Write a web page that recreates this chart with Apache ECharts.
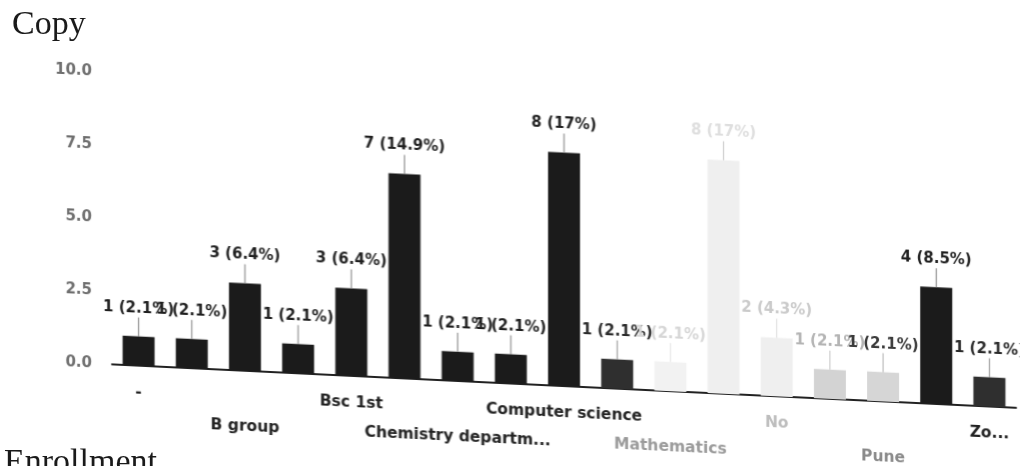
<!DOCTYPE html>
<html>
<head>
<meta charset="utf-8">
<script src="https://cdn.jsdelivr.net/npm/echarts@6/dist/echarts.min.js"></script>
<style>
html, body { margin: 0; padding: 0; background: #fff; }
#page { position: relative; width: 1020px; height: 466px; overflow: hidden; background: #fff; }
/* the scan is sheared: verticals stay vertical, the baseline drops to the right */
#chart { position: absolute; left: 0; top: 0; width: 1020px; height: 466px; transform-origin: 0 0; transform: skewY(2.75deg); }
#notes { position: absolute; left: 0; top: 0; width: 1020px; height: 466px; pointer-events: none; }
</style>
</head>
<body>
<div id="page">
  <div id="chart"></div>
  <div id="notes"></div>
</div>
<script>
// answers in form order, only every other name is printed under the axis
var categories = ['-', '', 'B group', '', 'Bsc 1st', '', 'Chemistry departm...', '', 'Computer science', '',
  'Mathematics', '', 'No', '', 'Pune', '', 'Zo...'];
var counts = [1, 1, 3, 1, 3, 7, 1, 1, 8, 1, 1, 8, 2, 1, 1, 4, 1];
var percents = [2.1, 2.1, 6.4, 2.1, 6.4, 14.9, 2.1, 2.1, 17, 2.1, 2.1, 17, 4.3, 2.1, 2.1, 8.5, 2.1];
var yTicks = [0, 2.5, 5, 7.5, 10];

// photocopy toner: some bars came out almost blank
var tones = {
  ink:   { bar: '#1b1b1b', text: '#1f1f1f', stem: '#7a7a7a' },
  grey:  { bar: '#2f2f2f', text: '#2a2a2a', stem: '#8a8a8a' },
  ghost: { bar: '#f2f2f2', text: '#d6d6d6', stem: '#e2e2e2' },
  mist:  { bar: '#efefef', text: '#dedede', stem: '#c4c4c4' },
  pale:  { bar: '#efefef', text: '#cacaca', stem: '#dadada' },
  ash:   { bar: '#d3d3d3', text: '#b4b4b4', stem: '#c4c4c4' },
  ash2:  { bar: '#d6d6d6', text: '#3a3a3a', stem: '#b0b0b0' }
};
var barTone = ['ink', 'ink', 'ink', 'ink', 'ink', 'ink', 'ink', 'ink', 'ink', 'grey',
  'ghost', 'mist', 'pale', 'ash', 'ash2', 'ink', 'grey'];
var axisTone = { 10: 'c1', 12: 'c2', 14: 'c3' };

var font = 'DejaVu Sans';

var labelRich = {};
var axisRich = {};
Object.keys(tones).forEach(function (k) {
  labelRich['t_' + k] = { color: tones[k].text, fontFamily: font, fontWeight: 'bold', fontSize: 15, lineHeight: 18 };
  labelRich['s_' + k] = { width: 1, height: 19, backgroundColor: tones[k].stem };
});
['#222222', '#9a9a9a', '#bdbdbd', '#8a8a8a'].forEach(function (c, i) {
  axisRich['c' + i] = { color: c, fontFamily: font, fontWeight: 'bold', fontSize: 15.5, lineHeight: 29 };
});

var chart = echarts.init(document.getElementById('chart'));
chart.setOption({
  backgroundColor: 'transparent',
  animation: false,
  grid: { left: 112, right: 4, top: 67, bottom: 107, containLabel: false },
  xAxis: {
    type: 'category',
    data: categories,
    axisLine: { show: true, lineStyle: { color: '#222', width: 2 } },
    axisTick: { show: false },
    axisLabel: {
      interval: 1,
      margin: 12,
      lineHeight: 29,
      fontSize: 15,
      fontFamily: font,
      formatter: function (value, index) {
        var key = axisTone[index] || 'c0';
        return (index % 4 === 0 ? '' : '\n') + '{' + key + '|' + value + '}';
      },
      rich: axisRich
    }
  },
  yAxis: {
    type: 'value',
    min: yTicks[0],
    max: yTicks[yTicks.length - 1],
    interval: yTicks[1] - yTicks[0],
    axisLine: { show: false },
    axisTick: { show: false },
    splitLine: { show: false },
    axisLabel: {
      margin: 20,
      color: '#6e6e6e',
      fontFamily: font,
      fontWeight: 'bold',
      fontSize: 15,
      formatter: function (v) { return v.toFixed(1); }
    }
  },
  series: [{
    type: 'bar',
    barWidth: 32,
    data: counts.map(function (v, i) {
      return { value: v, itemStyle: { color: tones[barTone[i]].bar } };
    }),
    label: {
      show: true,
      position: 'top',
      distance: 0,
      formatter: function (p) {
        var k = barTone[p.dataIndex];
        return '{t_' + k + '|' + counts[p.dataIndex] + ' (' + percents[p.dataIndex] + '%)}\n{s_' + k + '|}';
      },
      rich: labelRich
    }
  }]
});

// the scanned page text around the chart is not sheared
var notes = echarts.init(document.getElementById('notes'));
notes.setOption({
  animation: false,
  graphic: [
    { type: 'text', left: 12, top: 8, style: { text: 'Copy', font: '34px "Liberation Serif"', fill: '#1a1a1a' } },
    { type: 'text', left: 4, top: 446, style: { text: 'Enrollment', font: '34px "Liberation Serif"', fill: '#1a1a1a' } }
  ]
});
</script>
</body>
</html>
